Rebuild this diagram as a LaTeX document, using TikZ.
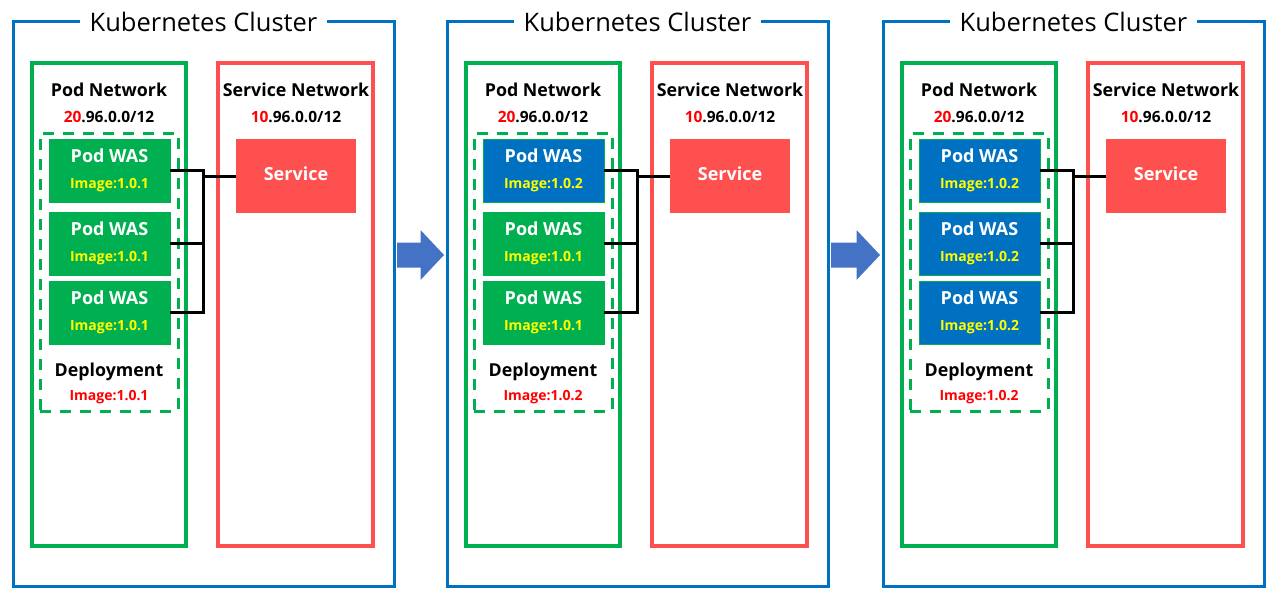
\documentclass[tikz,border=0pt]{standalone}
\usepackage{fontspec}
\setmainfont{Open Sans}
\usepackage{tikz}
\usetikzlibrary{calc}
\definecolor{kblue}{HTML}{0070C0}
\definecolor{kgreen}{HTML}{00B050}
\definecolor{kred}{HTML}{FF5050}
\definecolor{flowblue}{HTML}{4472C4}
\definecolor{imgyellow}{HTML}{FFFF00}
\definecolor{imgred}{HTML}{FF0000}
\tikzset{
  cluster/.style={draw=kblue, line width=3pt, minimum width=381, minimum height=564, inner sep=0},
  ctitle/.style={fill=white, inner xsep=10pt, inner ysep=2pt, font=\fontsize{25.5}{28}\selectfont},
  podnet/.style={draw=kgreen, line width=3.3pt, minimum width=154, minimum height=483, inner sep=0},
  svcnet/.style={draw=kred, line width=3.3pt, minimum width=155, minimum height=483, inner sep=0},
  deploy/.style={draw=kgreen, line width=3pt, dash pattern=on 11pt off 9pt, minimum width=138, minimum height=278, inner sep=0},
  pod/.style={draw=kgreen, line width=0.75pt, minimum width=121, minimum height=63, inner sep=0, align=center, text=white},
  svc/.style={fill=kred, minimum width=120, minimum height=74, inner sep=0, text=white, font=\bfseries\fontsize{18}{20}\selectfont},
  head/.style={font=\bfseries\fontsize{17.8}{20}\selectfont, inner sep=1pt},
  cidr/.style={font=\bfseries\fontsize{15.5}{18}\selectfont, inner sep=1pt},
  img/.style={font=\bfseries\fontsize{14}{16}\selectfont, inner sep=1pt},
  wire/.style={line width=3pt},
  flow/.style={fill=flowblue}
}
% one cluster: name, left x, pod colours and images, deployment image
\def\kcluster#1#2#3#4#5#6#7#8#9{
  \node[cluster] (#1) at (#2+190.5, 304) {};
  \node[ctitle] (#1-t) at (#2+190.5, 22) {Kubernetes Cluster};
  \node[podnet] (#1-pn) at (#2+96, 304.5) {};
  \node[svcnet] (#1-sn) at (#2+282.5, 304.5) {};
  \node[head] (#1-pnl) at (#2+96, 90) {Pod Network};
  \node[cidr] (#1-pnc) at (#2+96, 117) {\textcolor{imgred}{20}.96.0.0/12};
  \node[head] (#1-snl) at (#2+283, 90) {Service Network};
  \node[cidr] (#1-snc) at (#2+283, 117) {\textcolor{imgred}{10}.96.0.0/12};
  \node[deploy] (#1-dp) at (#2+96, 272) {};
  \node[pod, fill=#3] (#1-p1) at (#2+96.5, 170.5) {\podtext{#4}};
  \node[pod, fill=#5] (#1-p2) at (#2+96.5, 243.5) {\podtext{#6}};
  \node[pod, fill=#7] (#1-p3) at (#2+96.5, 312.5) {\podtext{#8}};
  \node[head] (#1-dpl) at (#2+96, 372) {Deployment};
  \node[img, text=imgred] (#1-dpi) at (#2+96, 397) {Image:#9};
  \node[svc] (#1-sv) at (#2+283, 176) {\raisebox{5pt}{Service}};
  \coordinate (#1-jn) at (#2+190, 0);
  \draw[wire] (#1-p1.east) -| (#1-jn |- #1-p3.east) -- (#1-p3.east);
  \draw[wire] (#1-p2.east) -- (#1-jn |- #1-p2.east);
  \draw[wire] (#1-jn |- #1-sv.west) -- (#1-sv.west);
}
\def\podtext#1{{\bfseries\fontsize{18}{20}\selectfont Pod WAS}\\[14pt]{\bfseries\fontsize{14}{16}\selectfont\color{imgyellow}Image:#1}}
% block arrow from one cluster to the next
\def\blockarrow#1#2{
  \coordinate (#1-at) at ([yshift=49pt]#1.east);
  \coordinate (#1-ae) at (#2.west |- #1-at);
  \fill[flow] ($(#1-at)+(1.5,-12.5)$) -- ($(#1-ae)+(-25,-12.5)$) -- ($(#1-ae)+(-25,-25)$)
    -- ($(#1-ae)+(-1.5,0)$) -- ($(#1-ae)+(-25,25)$) -- ($(#1-ae)+(-25,12.5)$)
    -- ($(#1-at)+(1.5,12.5)$) -- cycle;
}

\begin{document}
\begin{tikzpicture}[x=1pt, y=-1pt]
  %%%%% START %%%%%
  \useasboundingbox (0,0) rectangle (1270,602);

  \kcluster{k1}{13}{kgreen}{1.0.1}{kgreen}{1.0.1}{kgreen}{1.0.1}{1.0.1}
  \kcluster{k2}{447}{kblue}{1.0.2}{kgreen}{1.0.1}{kgreen}{1.0.1}{1.0.2}
  \kcluster{k3}{883}{kblue}{1.0.2}{kblue}{1.0.2}{kblue}{1.0.2}{1.0.2}

  \blockarrow{k1}{k2}
  \blockarrow{k2}{k3}
  %%%%% END %%%%%
\end{tikzpicture}
\end{document}
